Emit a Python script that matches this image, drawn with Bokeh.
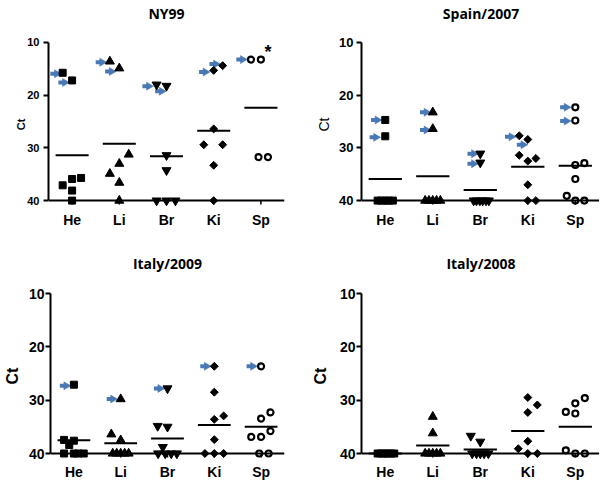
import math
from bokeh.plotting import figure
from bokeh.models import Range1d, FixedTicker, LinearAxis
from bokeh.layouts import column, row
from bokeh.embed import file_html
from bokeh.resources import INLINE
from bokeh.core.properties import value

CATEGORIES = ["He", "Li", "Br", "Ki", "Sp"]
Y_TICKS = [10, 20, 30, 40]

# ---------------- NY99 ----------------
NY99_CAT = ["He"] * 7 + ["Li"] * 7 + ["Br"] * 7 + ["Ki"] * 7 + ["Sp"] * 4
NY99_DX = [-0.2, 0, -0.2, 0, 0.19, 0, 0,
           -0.2, 0, 0.2, 0, -0.2, 0, 0,
           -0.21, 0, 0, 0, -0.21, 0, 0.19,
           0, 0.19, 0, -0.21, 0.19, 0, 0,
           -0.21, 0, -0.05, 0.15]
NY99_CT = [15.75, 17.2, 37.1, 35.9, 35.7, 38.1, 40,
           13.6, 14.9, 31.25, 33.0, 34.9, 36.6, 40,
           18.0, 18.25, 31.4, 34.25, 40, 40, 40,
           15.3, 14.4, 26.4, 29.4, 29.4, 33.3, 40,
           13.25, 13.25, 31.75, 31.75]
NY99_ARROW_CAT = ["He", "He", "Li", "Li", "Br", "Br", "Ki", "Ki", "Sp"]
NY99_ARROW_DX = [-0.37, -0.2, -0.41, -0.21, -0.42, -0.15, -0.22, 0, -0.43]
NY99_ARROW_CT = [15.94, 17.6, 13.75, 15.5, 18.3, 19.25, 15.6, 14.1, 13.25]
NY99_MEAN = [31.4, 29.2, 31.6, 26.75, 22.4]
NY99_STAR_CAT = "Sp"
NY99_STAR_DX = 0.15
NY99_STAR_CT = 11.1

# ---------------- Spain/2007 ----------------
SPAIN_CAT = ["He"] * 7 + ["Li"] * 7 + ["Br"] * 8 + ["Ki"] * 8 + ["Sp"] * 8
SPAIN_DX = [0, 0, -0.16, -0.08, 0, 0.08, 0.16,
            0, 0, -0.16, -0.08, 0, 0.08, 0.16,
            0, 0, -0.14, -0.08, -0.01, 0.05, 0.12, 0.18,
            -0.18, 0, -0.18, 0, 0.17, 0, 0, 0.17,
            0, 0, 0, 0.19, 0, -0.18, 0, 0.19]
SPAIN_CT = [24.7, 27.8, 40, 40, 40, 40, 40,
            23.25, 26.4, 40, 40, 40, 40, 40,
            31.1, 32.8, 40, 40, 40, 40, 40, 40,
            27.7, 28.4, 31.4, 32.5, 32.0, 37.0, 40, 40,
            22.3, 24.8, 33.25, 32.9, 35.9, 39.1, 40, 40]
SPAIN_ARROW_CAT = ["He", "He", "Li", "Li", "Br", "Br", "Ki", "Ki", "Sp", "Sp"]
SPAIN_ARROW_DX = [-0.21, -0.24, -0.18, -0.18, -0.18, -0.18, -0.39, -0.14, -0.23, -0.23]
SPAIN_ARROW_CT = [24.7, 28.0, 23.25, 26.6, 31.1, 33.0, 27.9, 29.4, 22.3, 24.9]
SPAIN_MEAN = [35.9, 35.4, 38.0, 33.6, 33.4]

# ---------------- Italy/2009 ----------------
IT09_CAT = ["He"] * 8 + ["Li"] * 8 + ["Br"] * 8 + ["Ki"] * 8 + ["Sp"] * 8
IT09_DX = [0, -0.21, -0.1, 0, -0.21, 0, 0.1, 0.21,
           0, -0.2, 0, -0.17, -0.085, 0, 0.085, 0.17,
           0, -0.21, 0, -0.1, -0.2, -0.05, 0.08, 0.2,
           0, 0, 0.2, 0, 0, -0.2, 0, 0.2,
           0, 0, 0.2, -0.21, 0, 0.2, -0.04, 0.16]
IT09_CT = [27.1, 37.45, 38.4, 37.6, 40, 40, 40, 40,
           29.8, 36.4, 37.5, 40, 40, 40, 40, 40,
           27.8, 34.85, 35.0, 38.8, 40, 40, 40, 40,
           23.65, 28.5, 32.95, 33.6, 37.4, 40, 40, 40,
           23.65, 33.45, 32.3, 36.9, 36.9, 35.8, 40, 40]
IT09_ARROW_CAT = ["He", "Li", "Br", "Ki", "Sp"]
IT09_ARROW_DX = [-0.21, -0.21, -0.2, -0.21, -0.22]
IT09_ARROW_CT = [27.3, 29.8, 27.8, 23.65, 23.65]
IT09_MEAN = [37.5, 38.1, 37.2, 34.65, 35.0]

# ---------------- Italy/2008 ----------------
IT08_CAT = ["He"] * 6 + ["Li"] * 7 + ["Br"] * 7 + ["Ki"] * 7 + ["Sp"] * 7
IT08_DX = [-0.16, -0.09, -0.02, 0.05, 0.12, 0.19,
           0, 0, -0.16, -0.08, 0, 0.08, 0.16,
           -0.2, 0, -0.17, -0.08, 0, 0.08, 0.17,
           0, 0.2, 0, 0, -0.2, 0, 0.2,
           0, 0.2, -0.2, 0, -0.2, 0, 0.2]
IT08_CT = [40, 40, 40, 40, 40, 40,
           33.1, 36.2, 40, 40, 40, 40, 40,
           36.7, 37.8, 40, 40, 40, 40, 40,
           29.5, 30.9, 32.3, 37.7, 39.1, 40, 40,
           30.6, 29.6, 32.2, 32.5, 39.4, 40, 40]
IT08_ARROW_CAT = []
IT08_ARROW_DX = []
IT08_ARROW_CT = []
IT08_MEAN = [40, 38.5, 39.25, 35.8, 35.0]

BLUE = "#4a78b4"
MARKERS = {
    "He": dict(marker="square", size=7, angle=0.0, fill_color="black", line_width=1),
    "Li": dict(marker="triangle", size=9, angle=0.0, fill_color="black", line_width=1),
    "Br": dict(marker="inverted_triangle", size=9, angle=0.0, fill_color="black", line_width=1),
    "Ki": dict(marker="square", size=5.6, angle=math.pi / 4, fill_color="black", line_width=1),
    "Sp": dict(marker="circle", size=6, angle=0.0, fill_color="white", line_width=2.2),
}


def build(title, cats, dxs, cts, acats, adxs, acts, means, cfg):
    p = figure(width=300, height=241,
               x_range=Range1d(-0.5, cfg["x_end"]),
               y_range=Range1d(cfg["y_bottom"], 9.4375),
               output_backend="svg", toolbar_location=None,
               min_border_left=cfg["bl"], min_border_right=cfg["br"],
               min_border_top=cfg["bt"], min_border_bottom=cfg["bb"])
    p.outline_line_color = None
    p.xgrid.visible = False
    p.ygrid.visible = False
    p.background_fill_color = "white"
    p.border_fill_color = "white"

    # panel title, carried by a tick-less axis above the frame
    tax = LinearAxis(ticker=FixedTicker(ticks=[]), axis_label=title,
                     axis_line_color=None, major_tick_line_color=None,
                     minor_tick_line_color=None, major_tick_out=0, major_tick_in=0,
                     minor_tick_out=0, minor_tick_in=0, major_label_standoff=0,
                     axis_label_standoff=cfg["title_standoff"],
                     axis_label_text_font="Open Sans", axis_label_text_font_size="14px",
                     axis_label_text_font_style="bold", axis_label_text_color="black")
    p.add_layout(tax, "above")

    ya = p.yaxis[0]
    ya.ticker = FixedTicker(ticks=Y_TICKS)
    ya.bounds = (Y_TICKS[0], Y_TICKS[-1])
    ya.axis_line_width = 2
    ya.axis_line_color = "black"
    ya.major_tick_line_width = 2
    ya.major_tick_line_color = "black"
    ya.major_tick_out = 5
    ya.major_tick_in = 0
    ya.minor_tick_line_color = None
    ya.major_label_text_font = "Liberation Sans"
    ya.major_label_text_font_size = cfg["tick_font"]
    ya.major_label_text_font_style = "bold"
    ya.major_label_text_color = "black"
    ya.major_label_standoff = cfg["tick_standoff"]
    ya.axis_label = "Ct"
    ya.axis_label_text_font = "Liberation Sans"
    ya.axis_label_text_font_size = cfg["label_font"]
    ya.axis_label_text_font_style = cfg["label_style"]
    ya.axis_label_text_color = "black"
    ya.axis_label_standoff = cfg["label_standoff"]

    xa = p.below[0]
    xa.ticker = FixedTicker(ticks=list(range(len(CATEGORIES))))
    xa.major_label_overrides = {i: c for i, c in enumerate(CATEGORIES)}
    xa.axis_line_color = None
    xa.major_tick_line_color = None
    xa.minor_tick_line_color = None
    xa.major_tick_out = 0
    xa.major_tick_in = 0
    xa.major_label_text_font = "Liberation Sans"
    xa.major_label_text_font_size = "14px"
    xa.major_label_text_font_style = "bold"
    xa.major_label_text_color = "black"
    xa.major_label_standoff = 2

    # arrows
    if acats:
        ax = [CATEGORIES.index(c) + d for c, d in zip(acats, adxs)]
        p.segment(x0=[a - 0.09 for a in ax], y0=acts, x1=[a + 0.01 for a in ax], y1=acts,
                  line_color=BLUE, line_width=4)
        p.scatter(x=[a + 0.045 for a in ax], y=acts, marker="triangle", size=8,
                  angle=-math.pi / 2, fill_color=BLUE, line_color=BLUE, line_width=0.5)

    # points
    for cat in CATEGORIES:
        idx = [i for i, c in enumerate(cats) if c == cat]
        if not idx:
            continue
        xs = [CATEGORIES.index(cat) + dxs[i] for i in idx]
        ys = [cts[i] for i in idx]
        st = MARKERS[cat]
        p.scatter(x=xs, y=ys, marker=st["marker"], size=st["size"], angle=st["angle"],
                  fill_color=st["fill_color"], line_color="black", line_width=st["line_width"])

    # mean lines
    p.segment(x0=[i - 0.35 for i in range(len(CATEGORIES))], y0=means,
              x1=[i + 0.35 for i in range(len(CATEGORIES))], y1=means,
              line_color="black", line_width=2)

    # x axis line at Ct = 40 and small ticks
    base = Y_TICKS[-1]
    p.segment(x0=[-0.5], y0=[base], x1=[len(CATEGORIES) - 0.5], y1=[base],
              line_color="black", line_width=2)
    p.segment(x0=list(range(len(CATEGORIES))), y0=[base] * len(CATEGORIES),
              x1=list(range(len(CATEGORIES))), y1=[base + 0.75] * len(CATEGORIES),
              line_color="black", line_width=1.5)
    return p


TOP_LEFT = dict(x_end=4.5, y_bottom=41.6875, bl=48, br=16, bt=37, bb=32, title_standoff=17,
                tick_font="11px", tick_standoff=4, label_font="11px",
                label_style="bold", label_standoff=-3)
TOP_RIGHT = dict(x_end=4.53, y_bottom=41.6875, bl=61, br=0, bt=37, bb=32, title_standoff=17,
                 tick_font="13px", tick_standoff=3, label_font="14px",
                 label_style="normal", label_standoff=4)
BOT_LEFT = dict(x_end=4.5, y_bottom=41.5, bl=48, br=16, bt=49, bb=21, title_standoff=18,
                tick_font="14px", tick_standoff=1, label_font="16px",
                label_style="bold", label_standoff=5)
BOT_RIGHT = dict(x_end=4.53, y_bottom=41.5, bl=61, br=0, bt=49, bb=21, title_standoff=18,
                 tick_font="14px", tick_standoff=1, label_font="16px",
                 label_style="bold", label_standoff=8)

p1 = build("NY99", NY99_CAT, NY99_DX, NY99_CT, NY99_ARROW_CAT, NY99_ARROW_DX, NY99_ARROW_CT,
           NY99_MEAN, TOP_LEFT)
p1.text(x=[CATEGORIES.index(NY99_STAR_CAT) + NY99_STAR_DX], y=[NY99_STAR_CT], text=["*"],
        text_font=value("Liberation Sans"), text_font_size=value("18px"), text_font_style="bold",
        text_align="center", text_baseline="middle", y_offset=4, text_color="black")
p2 = build("Spain/2007", SPAIN_CAT, SPAIN_DX, SPAIN_CT, SPAIN_ARROW_CAT, SPAIN_ARROW_DX,
           SPAIN_ARROW_CT, SPAIN_MEAN, TOP_RIGHT)
p3 = build("Italy/2009", IT09_CAT, IT09_DX, IT09_CT, IT09_ARROW_CAT, IT09_ARROW_DX,
           IT09_ARROW_CT, IT09_MEAN, BOT_LEFT)
p4 = build("Italy/2008", IT08_CAT, IT08_DX, IT08_CT, IT08_ARROW_CAT, IT08_ARROW_DX,
           IT08_ARROW_CT, IT08_MEAN, BOT_RIGHT)

layout = column(row(p1, p2), row(p3, p4))
open("out.html", "w").write(file_html(layout, INLINE))
